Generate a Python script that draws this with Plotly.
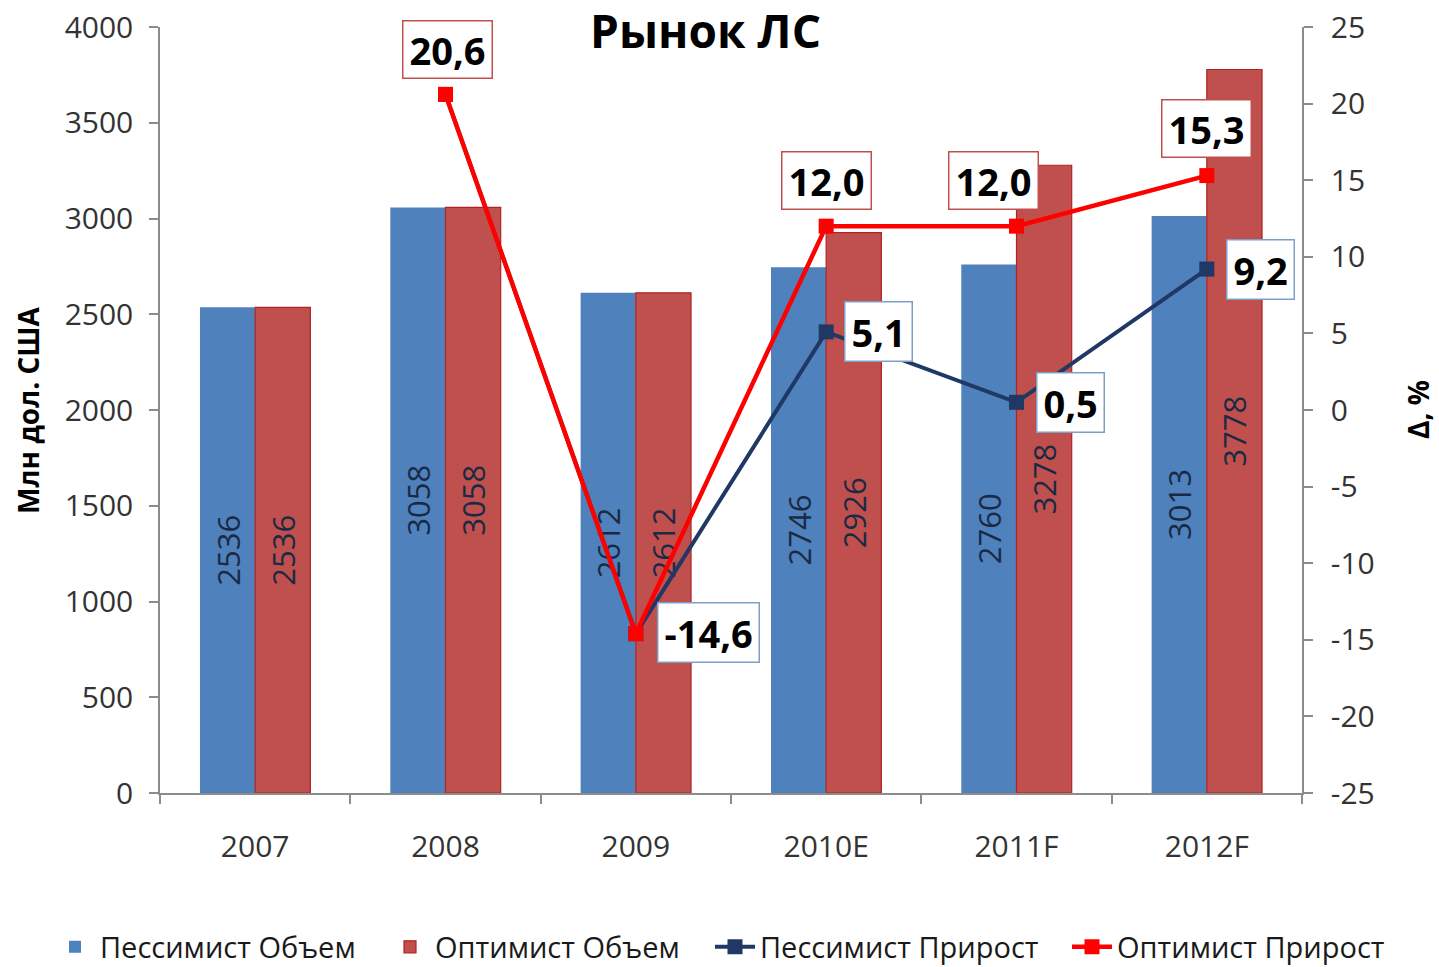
import plotly.graph_objects as go

categories = ["2007", "2008", "2009", "2010E", "2011F", "2012F"]
pess_volume = [2536, 3058, 2612, 2746, 2760, 3013]
opt_volume = [2536, 3058, 2612, 2926, 3278, 3778]
pess_growth = [None, 20.6, -14.6, 5.1, 0.5, 9.2]
opt_growth = [None, 20.6, -14.6, 12.0, 12.0, 15.3]
y2_ticks = [-25, -20, -15, -10, -5, 0, 5, 10, 15, 20, 25]
y2_ticktext = ["-25", "-20", "-15", "-10", "-5", "0", "5", "10", "15", "20", "25"]

# which growth points get a boxed label, and where (offset in px)
opt_labels = {"2008": (2, 45), "2010E": (0, 46), "2011F": (-23, 46), "2012F": (0, 47)}
pess_labels = {"2009": (73, 1), "2010E": (52, 0), "2011F": (54, 0), "2012F": (54, 0)}

FONT = "Open Sans"
W, H = 1439, 967
L = 160
T = 27
R = W - 1302
B = H - 793
pw, ph = W - L - R, H - T - B

def px_x(x):
    return (x - L) / pw

def px_y(y):
    return (H - B - y) / ph

fig = go.Figure()
fig.add_trace(go.Bar(
    x=categories, y=pess_volume, name="Пессимист Объем",
    marker=dict(color="#4F81BD", line=dict(width=0)),
    text=[str(v) for v in pess_volume], textposition="inside",
    insidetextanchor="middle", textangle=-90, constraintext="none",
    textfont=dict(family=FONT, size=31, color="#1b2a44"),
    legend="legend",
))
fig.add_trace(go.Bar(
    x=categories, y=opt_volume, name="Оптимист Объем",
    marker=dict(color="#C0504D", line=dict(width=1.2, color="#B22222")),
    text=[str(v) for v in opt_volume], textposition="inside",
    insidetextanchor="middle", textangle=-90, constraintext="none",
    textfont=dict(family=FONT, size=31, color="#1b2a44"),
    legend="legend2",
))
fig.add_trace(go.Scatter(
    x=categories, y=pess_growth, name="Пессимист Прирост", yaxis="y2",
    mode="lines+markers", line=dict(color="#1F3864", width=4),
    marker=dict(symbol="square", size=15, color="#1F3864"),
    legend="legend3",
))
fig.add_trace(go.Scatter(
    x=categories, y=opt_growth, name="Оптимист Прирост", yaxis="y2",
    mode="lines+markers", line=dict(color="#FF0000", width=4.5),
    marker=dict(symbol="square", size=15, color="#FF0000"),
    legend="legend4",
))

annotations = []

def fmt(v):
    return f"{v:.1f}".replace(".", ",")

for cat, (dx, dy) in opt_labels.items():
    i = categories.index(cat)
    v = opt_growth[i]
    annotations.append(dict(
        x=i, y=v, xref="x", yref="y2", text=f"<b>{fmt(v)}</b>", showarrow=False,
        xshift=dx, yshift=dy, bgcolor="white", bordercolor="#C0504D", borderwidth=1.5,
        borderpad=6, height=44, font=dict(family=FONT, size=38, color="black"),
    ))
for cat, (dx, dy) in pess_labels.items():
    i = categories.index(cat)
    v = pess_growth[i]
    annotations.append(dict(
        x=i, y=v, xref="x", yref="y2", text=f"<b>{fmt(v)}</b>", showarrow=False,
        xshift=dx, yshift=dy, bgcolor="white", bordercolor="#7F9FC8", borderwidth=1.5,
        borderpad=6, height=46, font=dict(family=FONT, size=38, color="black"),
    ))

annotations.append(dict(
    x=px_x(705), y=px_y(30), xref="paper", yref="paper", showarrow=False,
    text="<b>Рынок ЛС</b>", font=dict(family=FONT, size=46, color="black"),
    xanchor="center", yanchor="middle",
))
annotations.append(dict(
    x=px_x(28), y=px_y(410), xref="paper", yref="paper", showarrow=False,
    text="<b>Млн дол. США</b>", textangle=-90,
    font=dict(family=FONT, size=28, color="black"), xanchor="center", yanchor="middle",
))
annotations.append(dict(
    x=px_x(1418), y=px_y(410), xref="paper", yref="paper", showarrow=False,
    text="<b>Δ, %</b>", textangle=-90,
    font=dict(family=FONT, size=28, color="black"), xanchor="center", yanchor="middle",
))

axis_common = dict(
    showgrid=False, zeroline=False, showline=True, linecolor="#8c8c8c", linewidth=1.5,
    ticks="outside", ticklen=9, tickcolor="#8c8c8c", tickwidth=1.5,
    tickfont=dict(family=FONT, size=30, color="#333333"),
    ticklabeloverflow="allow",
)

legend_common = dict(
    orientation="h", xref="container", yref="container", xanchor="left",
    y=(H - 947) / H, yanchor="middle",
    font=dict(family=FONT, size=29, color="#1a1a1a"),
    traceorder="normal", itemwidth=40, bgcolor="rgba(0,0,0,0)",
)

fig.update_layout(
    width=W, height=H,
    margin=dict(l=L, r=R, t=T, b=B, pad=0, autoexpand=False),
    paper_bgcolor="white", plot_bgcolor="white",
    barmode="group", bargap=0.42, bargroupgap=0,
    xaxis=dict(**axis_common, type="category", tickson="boundaries",
               range=[-0.5, 5.5], ticklabelstandoff=26),
    yaxis=dict(**axis_common, range=[0, 4000], dtick=500, ticklabelstandoff=10),
    yaxis2=dict(**axis_common, range=[-25, 25], tickvals=y2_ticks,
                ticktext=y2_ticktext, overlaying="y", side="right",
                ticklabelstandoff=12),
    legend=dict(**legend_common, x=50 / W),
    legend2=dict(**legend_common, x=385 / W),
    legend3=dict(**legend_common, x=710 / W),
    legend4=dict(**legend_common, x=1067 / W),
    annotations=annotations,
    showlegend=True,
)

fig.write_html(
    "out.html",
    config={"displayModeBar": False},
    post_script="document.body.style.margin='0';document.body.style.overflow='hidden';",
)
